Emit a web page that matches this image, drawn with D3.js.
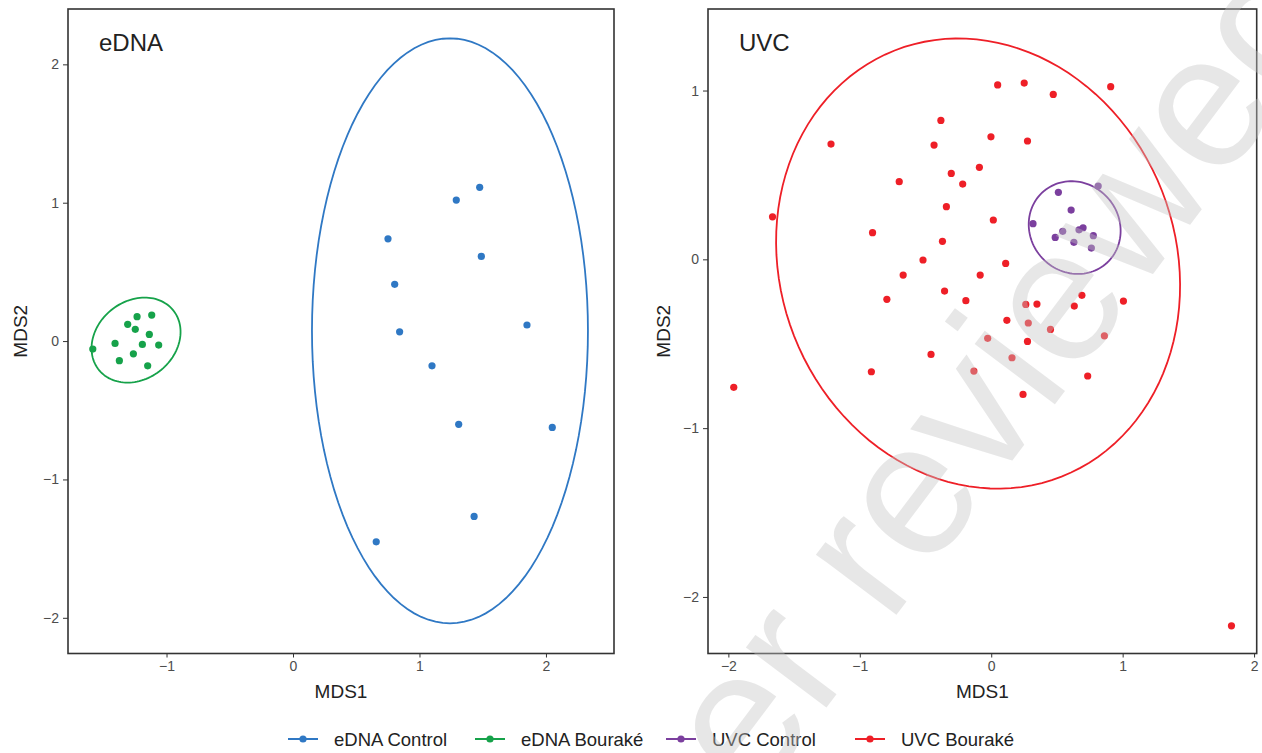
<!DOCTYPE html>
<html>
<head>
<meta charset="UTF-8">
<title>MDS eDNA / UVC</title>
<style type="text/css">
body { margin: 0; background: #ffffff; }
svg { font-family: "Liberation Sans", Arial, sans-serif; }
.tick text { fill: #4d4d4d; font-size: 14px; }
.tick line { stroke: #333; }
</style>
<script src="https://d3js.org/d3.v7.min.js"></script>
</head>
<body>
<script type="text/javascript">
// points, [MDS1, MDS2]
var ednaControl = [[1.476,1.111],[1.291,1.019],[0.751,0.739],[1.489,0.612],[0.804,0.410],[1.850,0.116],
  [0.843,0.067],[1.099,-0.179],[1.310,-0.602],[2.050,-0.624],[1.432,-1.267],[0.658,-1.451]];
var ednaBourake = [[-1.233,0.176],[-1.117,0.188],[-1.307,0.121],[-1.247,0.085],[-1.136,0.048],[-1.407,-0.017],
  [-1.191,-0.024],[-1.062,-0.029],[-1.583,-0.058],[-1.262,-0.092],[-1.373,-0.142],[-1.149,-0.179]];
var uvcControl = [[0.814,0.434],[0.511,0.397],[0.608,0.292],[0.318,0.211],[0.544,0.166],[0.668,0.175],
  [0.699,0.187],[0.487,0.130],[0.777,0.140],[0.629,0.101],[0.762,0.067]];
var uvcBourake = [[0.049,1.033],[0.251,1.044],[0.472,0.977],[0.909,1.023],[-0.383,0.823],[-1.219,0.683],
  [-0.435,0.677],[-0.002,0.726],[0.276,0.701],[-0.090,0.545],[-0.304,0.509],[-0.217,0.446],[-0.700,0.460],
  [-0.341,0.312],[-1.664,0.252],[0.016,0.233],[-0.903,0.158],[-0.371,0.107],[-0.519,-0.004],[0.110,-0.024],
  [-0.670,-0.093],[-0.084,-0.093],[-0.355,-0.188],[-0.794,-0.237],[-0.193,-0.245],[0.690,-0.213],[0.263,-0.267],
  [0.348,-0.265],[0.632,-0.277],[1.006,-0.247],[0.119,-0.361],[0.282,-0.377],[0.451,-0.415],[0.861,-0.453],
  [-0.027,-0.468],[0.276,-0.486],[-0.458,-0.563],[0.158,-0.583],[-0.912,-0.666],[-0.132,-0.662],[0.734,-0.691],
  [-1.959,-0.758],[0.242,-0.800],[1.828,-2.171]];

// confidence ellipses: [centre x, centre y, semi-axis a, semi-axis b, rotation deg]
var ednaControlEllipse = [1.241, 0.074, 1.091, 2.114, 0];
var ednaBourakeEllipse = [-1.241, 0.007, 0.367, 0.289, 27.4];
var uvcControlEllipse = [0.635, 0.188, 0.351, 0.273, -8];
var uvcBourakeEllipse = [-0.100, -0.025, 1.557, 1.310, -17.2];

var ednaXTicks = [-1, 0, 1, 2];
var ednaYTicks = [-2, -1, 0, 1, 2];
var uvcXTicks = [-2, -1, 0, 1, 2];
var uvcYTicks = [-2, -1, 0, 1];

var legendLabels = ["eDNA Control", "eDNA Bouraké", "UVC Control", "UVC Bouraké"];
var groupColors = ["#2f78c4", "#16a24a", "#7b3f9e", "#ee1f27"];

var svg = d3.select("body").append("svg")
  .attr("width", 1262)
  .attr("height", 753);

function ellipsePoints(e) {
  var pts = [], th = e[4] * Math.PI / 180;
  for (var i = 0; i < 120; i++) {
    var t = i / 120 * 2 * Math.PI;
    pts.push([e[0] + e[2] * Math.cos(t) * Math.cos(th) - e[3] * Math.sin(t) * Math.sin(th),
              e[1] + e[2] * Math.cos(t) * Math.sin(th) + e[3] * Math.sin(t) * Math.cos(th)]);
  }
  return pts;
}

var fmt = d3.format("d");

function drawPanel(p) {
  var x = d3.scaleLinear().domain(p.xDomain).range([p.left, p.right]);
  var y = d3.scaleLinear().domain(p.yDomain).range([p.bottom, p.top]);
  var g = svg.append("g");

  g.append("g")
    .attr("transform", "translate(0," + p.bottom + ")")
    .call(d3.axisBottom(x).tickValues(p.xTicks).tickFormat(fmt).tickSize(4).tickPadding(4))
    .call(function(a) { a.select(".domain").remove(); });
  g.append("g")
    .attr("transform", "translate(" + p.left + ",0)")
    .call(d3.axisLeft(y).tickValues(p.yTicks).tickFormat(fmt).tickSize(5).tickPadding(4))
    .call(function(a) { a.select(".domain").remove(); });

  var line = d3.line()
    .x(function(d) { return x(d[0]); })
    .y(function(d) { return y(d[1]); })
    .curve(d3.curveLinearClosed);

  p.groups.forEach(function(grp) {
    g.append("path")
      .attr("d", line(ellipsePoints(grp.ellipse)))
      .attr("fill", "none")
      .attr("stroke", grp.color)
      .attr("stroke-width", 1.8);
    g.selectAll(null).data(grp.points).enter().append("circle")
      .attr("cx", function(d) { return x(d[0]); })
      .attr("cy", function(d) { return y(d[1]); })
      .attr("r", 3.6)
      .attr("fill", grp.color);
  });

  g.append("rect")
    .attr("x", p.left).attr("y", p.top)
    .attr("width", p.right - p.left).attr("height", p.bottom - p.top)
    .attr("fill", "none").attr("stroke", "#333").attr("stroke-width", 1.6);

  g.append("text")
    .attr("x", p.left + 31).attr("y", 51)
    .style("font-size", "24px").style("fill", "#222")
    .text(p.title);

  g.append("text")
    .attr("x", (p.left + p.right) / 2).attr("y", 698)
    .attr("text-anchor", "middle")
    .style("font-size", "19px").style("fill", "#222")
    .text("MDS1");

  g.append("text")
    .attr("transform", "translate(" + p.yTitleX + "," + (p.top + p.bottom) / 2 + ") rotate(-90)")
    .attr("text-anchor", "middle")
    .style("font-size", "19px").style("fill", "#222")
    .text("MDS2");
}

drawPanel({
  title: "eDNA", left: 68, right: 614, top: 9, bottom: 653.5, yTitleX: 27,
  xDomain: [-1.779, 2.538], yDomain: [-2.258, 2.40],
  xTicks: ednaXTicks, yTicks: ednaYTicks,
  groups: [
    {points: ednaControl, ellipse: ednaControlEllipse, color: groupColors[0]},
    {points: ednaBourake, ellipse: ednaBourakeEllipse, color: groupColors[1]}
  ]
});

drawPanel({
  title: "UVC", left: 708, right: 1256.7, top: 9, bottom: 653.5, yTitleX: 670,
  xDomain: [-2.155, 2.02], yDomain: [-2.335, 1.483],
  xTicks: uvcXTicks, yTicks: uvcYTicks,
  groups: [
    {points: uvcBourake, ellipse: uvcBourakeEllipse, color: groupColors[3]},
    {points: uvcControl, ellipse: uvcControlEllipse, color: groupColors[2]}
  ]
});

// legend
var legendX = [288, 475, 666, 855];
legendLabels.forEach(function(lab, i) {
  var lg = svg.append("g").attr("transform", "translate(" + legendX[i] + ",739)");
  lg.append("line").attr("x1", 0).attr("x2", 30).attr("y1", 0).attr("y2", 0)
    .attr("stroke", groupColors[i]).attr("stroke-width", 2);
  lg.append("circle").attr("cx", 15).attr("cy", 0).attr("r", 3.6).attr("fill", groupColors[i]);
  lg.append("text").attr("x", 46).attr("y", 6.5)
    .style("font-size", "18.5px").style("fill", "#222")
    .text(lab);
});

// watermark across the right panel
svg.append("text")
  .attr("transform", "translate(1346,18) rotate(-53)")
  .attr("text-anchor", "end")
  .style("font-size", "190px")
  .style("fill", "#c4c4c4")
  .style("opacity", 0.4)
  .text("Preprint not peer reviewed");
</script>
</body>
</html>
